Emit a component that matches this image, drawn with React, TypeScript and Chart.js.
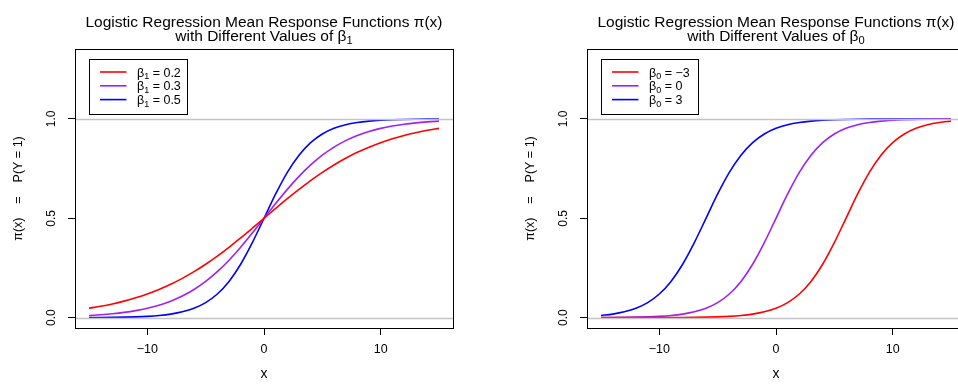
import React, { useEffect, useRef } from "react";
import { Chart, registerables } from "chart.js";

Chart.register(...registerables);

const FONT = "'Liberation Sans', Arial, Helvetica, sans-serif";

// x grid for the curves
const xValues = [-15, -14, -13, -12, -11, -10, -9, -8, -7, -6, -5, -4, -3, -2, -1, 0, 1, 2, 3, 4, 5, 6, 7, 8, 9, 10, 11, 12, 13, 14, 15];

// Left panel: beta0 = 0, different beta1
const beta1Values = ["0.2", "0.3", "0.5"];
const beta1_02 = [0.0474, 0.0573, 0.0691, 0.0832, 0.0998, 0.1192, 0.1419, 0.168, 0.1978, 0.2315, 0.2689, 0.31, 0.3543, 0.4013, 0.4502, 0.5, 0.5498, 0.5987, 0.6457, 0.69, 0.7311, 0.7685, 0.8022, 0.832, 0.8581, 0.8808, 0.9002, 0.9168, 0.9309, 0.9427, 0.9526];
const beta1_03 = [0.011, 0.0148, 0.0198, 0.0266, 0.0356, 0.0474, 0.063, 0.0832, 0.1091, 0.1419, 0.1824, 0.2315, 0.2891, 0.3543, 0.4256, 0.5, 0.5744, 0.6457, 0.7109, 0.7685, 0.8176, 0.8581, 0.8909, 0.9168, 0.937, 0.9526, 0.9644, 0.9734, 0.9802, 0.9852, 0.989];
const beta1_05 = [0.0006, 0.0009, 0.0015, 0.0025, 0.0041, 0.0067, 0.011, 0.018, 0.0293, 0.0474, 0.0759, 0.1192, 0.1824, 0.2689, 0.3775, 0.5, 0.6225, 0.7311, 0.8176, 0.8808, 0.9241, 0.9526, 0.9707, 0.982, 0.989, 0.9933, 0.9959, 0.9975, 0.9985, 0.9991, 0.9994];

// Right panel: beta1 = 0.5, different beta0
const beta0Values = ["\u22123", "0", "3"];
const beta0_m3 = [0.0, 0.0, 0.0001, 0.0001, 0.0002, 0.0003, 0.0006, 0.0009, 0.0015, 0.0025, 0.0041, 0.0067, 0.011, 0.018, 0.0293, 0.0474, 0.0759, 0.1192, 0.1824, 0.2689, 0.3775, 0.5, 0.6225, 0.7311, 0.8176, 0.8808, 0.9241, 0.9526, 0.9707, 0.982, 0.989];
const beta0_0 = [0.0006, 0.0009, 0.0015, 0.0025, 0.0041, 0.0067, 0.011, 0.018, 0.0293, 0.0474, 0.0759, 0.1192, 0.1824, 0.2689, 0.3775, 0.5, 0.6225, 0.7311, 0.8176, 0.8808, 0.9241, 0.9526, 0.9707, 0.982, 0.989, 0.9933, 0.9959, 0.9975, 0.9985, 0.9991, 0.9994];
const beta0_p3 = [0.011, 0.018, 0.0293, 0.0474, 0.0759, 0.1192, 0.1824, 0.2689, 0.3775, 0.5, 0.6225, 0.7311, 0.8176, 0.8808, 0.9241, 0.9526, 0.9707, 0.982, 0.989, 0.9933, 0.9959, 0.9975, 0.9985, 0.9991, 0.9994, 0.9997, 0.9998, 0.9999, 0.9999, 1.0, 1.0];

const xTicks = [-10, 0, 10];
const yTicks = [0, 0.5, 1];
const refLines = [0, 1];
const seriesColors = ["#FF0000", "#A020F0", "#0000FF"];

const titleLine1 = "Logistic Regression Mean Response Functions \u03c0(x)";
const titleLine2 = "with Different Values of \u03b2";
const yTitle = "\u03c0(x)    =    P(Y = 1)";
const xTitle = "x";

type Seg = { t: string; sub?: boolean };

function drawRich(ctx: CanvasRenderingContext2D, segs: Seg[], x: number, y: number, size: number, center: boolean) {
  const main = `${size}px ${FONT}`;
  const sub = `${size * 0.72}px ${FONT}`;
  let total = 0;
  for (const s of segs) {
    ctx.font = s.sub ? sub : main;
    total += ctx.measureText(s.t).width;
  }
  let cx = center ? x - total / 2 : x;
  ctx.textAlign = "left";
  ctx.textBaseline = "alphabetic";
  for (const s of segs) {
    ctx.font = s.sub ? sub : main;
    ctx.fillText(s.t, cx, y + (s.sub ? size * 0.22 : 0));
    cx += ctx.measureText(s.t).width;
  }
}

function fmtX(v: number) {
  return v < 0 ? "\u2212" + Math.abs(v) : String(v);
}

type PanelProps = {
  subIdx: string;
  legendValues: string[];
  series: number[][];
  legendWidth: number;
};

function Panel({ subIdx, legendValues, series, legendWidth }: PanelProps) {
  const ref = useRef<HTMLCanvasElement | null>(null);
  useEffect(() => {
    const canvas = ref.current;
    if (!canvas) return;
    const decor = {
      id: "decor",
      afterDatasetsDraw(chart: any) {
        const ctx = chart.ctx as CanvasRenderingContext2D;
        const a = chart.chartArea;
        const ys = chart.scales.y;
        ctx.save();
        // reference lines
        ctx.strokeStyle = "#c4c4c4";
        ctx.lineWidth = 1.3;
        for (const v of refLines) {
          const py = Math.round(ys.getPixelForValue(v)) + 0.5;
          ctx.beginPath();
          ctx.moveTo(a.left, py);
          ctx.lineTo(a.right, py);
          ctx.stroke();
        }
        // box
        ctx.strokeStyle = "#000";
        ctx.lineWidth = 1;
        ctx.strokeRect(Math.round(a.left) + 0.5, Math.round(a.top) + 0.5, Math.round(a.right - a.left), Math.round(a.bottom - a.top));
        ctx.restore();
      },
      afterDraw(chart: any) {
        const ctx = chart.ctx as CanvasRenderingContext2D;
        const a = chart.chartArea;
        const ys = chart.scales.y;
        ctx.save();
        ctx.fillStyle = "#000";
        // y tick labels (rotated like R)
        ctx.font = `12px ${FONT}`;
        for (const t of ys.ticks) {
          const py = ys.getPixelForValue(t.value);
          ctx.save();
          ctx.translate(52, py);
          ctx.rotate(-Math.PI / 2);
          ctx.textAlign = "center";
          ctx.textBaseline = "middle";
          ctx.fillText(t.value.toFixed(1), 0, 0);
          ctx.restore();
        }
        // title
        const cx = (a.left + a.right) / 2;
        drawRich(ctx, [{ t: titleLine1 }], cx, 27, 15.5, true);
        drawRich(ctx, [{ t: titleLine2 }, { t: subIdx, sub: true }], cx, 40.5, 15.5, true);
        // legend
        const lx = 89.5, ly = 59.5, lh = 55;
        ctx.fillStyle = "#fff";
        ctx.fillRect(lx, ly, legendWidth, lh);
        ctx.strokeStyle = "#000";
        ctx.lineWidth = 1;
        ctx.strokeRect(lx, ly, legendWidth, lh);
        chart.data.datasets.forEach((ds: any, i: number) => {
          const ry = 72 + i * 13.8;
          ctx.strokeStyle = ds.borderColor;
          ctx.lineWidth = 1.6;
          ctx.beginPath();
          ctx.moveTo(100, ry);
          ctx.lineTo(126.5, ry);
          ctx.stroke();
          ctx.fillStyle = "#000";
          drawRich(ctx, [{ t: "\u03b2" }, { t: subIdx, sub: true }, { t: " = " + legendValues[i] }], 137, ry + 4.5, 12.5, false);
        });
        ctx.restore();
      },
    };
    const chart = new Chart(canvas, {
      type: "line",
      data: {
        datasets: series.map((vals, i) => ({
          label: "\u03b2" + subIdx + " = " + legendValues[i],
          data: xValues.map((x, j) => ({ x, y: vals[j] })),
          borderColor: seriesColors[i],
          borderWidth: 1.6,
          pointRadius: 0,
          fill: false,
          cubicInterpolationMode: "monotone" as const,
        })),
      },
      options: {
        responsive: false,
        animation: false,
        events: [],
        layout: { padding: { top: 49, right: 58, bottom: 0, left: 0 } },
        plugins: { legend: { display: false }, title: { display: false }, tooltip: { enabled: false } },
        scales: {
          x: {
            type: "linear",
            min: -16.2,
            max: 16.2,
            afterBuildTicks: (s: any) => {
              s.ticks = xTicks.map((v) => ({ value: v }));
            },
            afterFit: (s: any) => {
              s.height = 56;
            },
            border: { display: false },
            grid: { drawOnChartArea: false, drawTicks: true, tickLength: 7, tickColor: "#000", color: "#000" },
            ticks: {
              padding: 7,
              color: "#000",
              font: { size: 12.5, family: FONT },
              maxRotation: 0,
              autoSkip: false,
              callback: (v: any) => fmtX(Number(v)),
            },
            title: { display: true, text: xTitle, color: "#000", font: { size: 14, family: FONT }, padding: { top: 0, bottom: 1 } },
          },
          y: {
            type: "linear",
            min: -0.052,
            max: 1.352,
            afterBuildTicks: (s: any) => {
              s.ticks = yTicks.map((v) => ({ value: v }));
            },
            afterFit: (s: any) => {
              s.width = 75;
            },
            border: { display: false },
            grid: { drawOnChartArea: false, drawTicks: true, tickLength: 7, tickColor: "#000", color: "#000" },
            ticks: { display: false },
            title: { display: true, text: yTitle, color: "#000", font: { size: 12.5, family: FONT }, padding: { top: 11, bottom: 0 } },
          },
        },
      },
      plugins: [decor],
    } as any);
    return () => chart.destroy();
  }, [subIdx, legendValues, series, legendWidth]);
  return <canvas ref={ref} width={511} height={384} style={{ display: "block", width: 511, height: 384 }} />;
}

const leftSeries = [beta1_02, beta1_03, beta1_05];
const rightSeries = [beta0_m3, beta0_0, beta0_p3];

export default function App() {
  return (
    <div style={{ position: "absolute", left: 0, top: 0, width: 958, height: 384, overflow: "hidden", background: "#fff" }}>
      <div style={{ position: "absolute", left: 0, top: 0 }}>
        <Panel subIdx="1" legendValues={beta1Values} series={leftSeries} legendWidth={98} />
      </div>
      <div style={{ position: "absolute", left: 512, top: 0 }}>
        <Panel subIdx="0" legendValues={beta0Values} series={rightSeries} legendWidth={97} />
      </div>
    </div>
  );
}
